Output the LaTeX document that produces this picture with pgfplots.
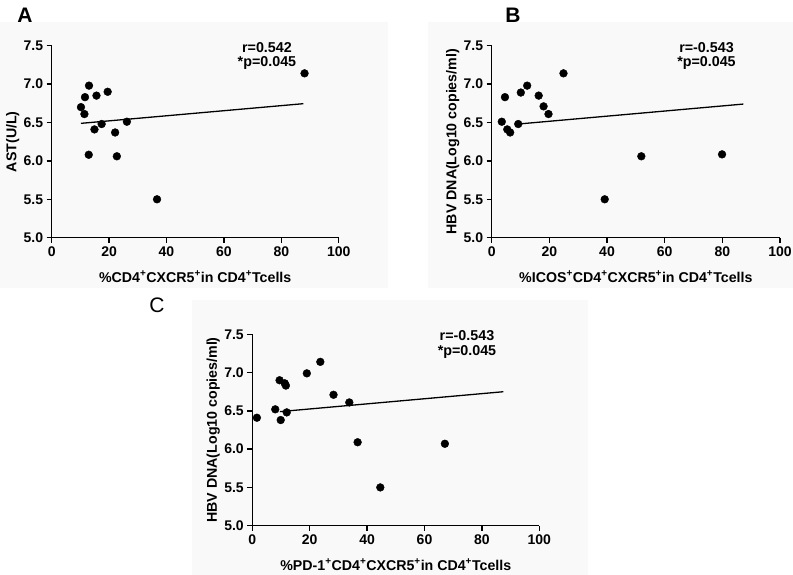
\documentclass[border=0pt]{standalone}
\usepackage{pgfplots}
\pgfplotsset{compat=1.18}
\usepackage{fontspec}
\setmainfont{Liberation Sans}

\newcommand{\sps}{\textsuperscript{+}}

\pgfplotsset{
  panel/.style={
    scale only axis, width=287pt, height=192pt,
    xmin=0, xmax=100, ymin=5, ymax=7.5,
    axis x line*=bottom, axis y line*=left,
    axis line style={line width=1.4pt},
    xtick={0,20,...,100}, ytick={5,5.5,...,7.5},
    tick align=outside, major tick length=5pt,
    tick style={line width=1.4pt, black},
    /pgf/number format/assume math mode=true,
    ticklabel style={font=\bfseries\fontsize{14}{14}\selectfont},
    yticklabel style={/pgf/number format/fixed, /pgf/number format/fixed zerofill, /pgf/number format/precision=1},
    label style={font=\bfseries\fontsize{14.2}{15}\selectfont},
    xlabel style={at={([yshift=-39pt]axis description cs:0.5,0)}, anchor=center},
    ylabel style={at={([xshift=-39pt]axis description cs:0,0.5)}, anchor=center},
    clip=false,
  },
  dots/.style={only marks, mark=*, mark size=3.9pt, black},
  fit/.style={no marks, black, line width=1.3pt},
}
\tikzset{note/.style={font=\bfseries\fontsize{14.3}{15}\selectfont}}

\begin{document}
\begin{tikzpicture}
\useasboundingbox (0,0) rectangle (793pt,575pt);
\fill[black!2.5] (0pt,287pt) rectangle (388pt,553pt);
\fill[black!2.5] (428pt,287pt) rectangle (793pt,553pt);
\fill[black!2.5] (192pt,0pt) rectangle (588pt,275pt);

\node[font=\bfseries\fontsize{21}{21}\selectfont] at (25pt,560pt) {A};
\node[font=\bfseries\fontsize{21}{21}\selectfont] at (513pt,560pt) {B};
\node[font=\fontsize{21}{21}\selectfont] at (157pt,270pt) {C};

% Panel A
\begin{axis}[panel, at={(51.7pt,337.3pt)}, anchor=south west,
  xlabel={\%CD4\sps CXCR5\sps in CD4\sps Tcells},
  ylabel={AST(U/L)}]
\addplot[fit] coordinates {(10.2,6.489) (87.7,6.745)};
\addplot[dots] coordinates {
  (10.2,6.70) (11.4,6.61) (11.6,6.83) (13.0,6.98) (12.9,6.08)
  (14.9,6.41) (15.6,6.85) (17.4,6.48) (19.5,6.90) (22.1,6.37)
  (22.7,6.06) (26.2,6.51) (36.7,5.50) (88.1,7.14)
};
\node[note] at (axis cs:75,7.48) {r=0.542};
\node[note] at (axis cs:75,7.275) {*p=0.045};
\end{axis}

% Panel B
\begin{axis}[panel, at={(491.7pt,337.3pt)}, anchor=south west, width=288.3pt,
  xlabel={\%ICOS\sps CD4\sps CXCR5\sps in CD4\sps Tcells},
  ylabel={HBV DNA(Log10 copies/ml)}]
\addplot[fit] coordinates {(9.2,6.48) (87.3,6.74)};
\addplot[dots] coordinates {
  (3.5,6.51) (4.6,6.83) (5.4,6.41) (6.4,6.37) (9.2,6.48)
  (10.1,6.89) (12.3,6.98) (16.3,6.85) (18.0,6.71) (19.7,6.61)
  (24.9,7.14) (39.2,5.50) (51.9,6.06) (79.9,6.085)
};
\node[note] at (axis cs:74.5,7.48) {r=-0.543};
\node[note] at (axis cs:74.5,7.275) {*p=0.045};
\end{axis}

% Panel C
\begin{axis}[panel, at={(252.3pt,49.3pt)}, anchor=south west, height=191.4pt,
  xlabel={\%PD-1\sps CD4\sps CXCR5\sps in CD4\sps Tcells},
  ylabel={HBV DNA(Log10 copies/ml)}]
\addplot[fit] coordinates {(9.6,6.49) (87.5,6.75)};
\addplot[dots] coordinates {
  (1.6,6.41) (8.0,6.52) (9.5,6.90) (9.9,6.38) (11.3,6.86)
  (11.7,6.83) (12.0,6.48) (19.0,6.99) (23.7,7.14) (28.3,6.71)
  (33.8,6.61) (36.7,6.09) (44.6,5.50) (67.1,6.07)
};
\node[note] at (axis cs:74.8,7.48) {r=-0.543};
\node[note] at (axis cs:74.8,7.275) {*p=0.045};
\end{axis}
\end{tikzpicture}
\end{document}
